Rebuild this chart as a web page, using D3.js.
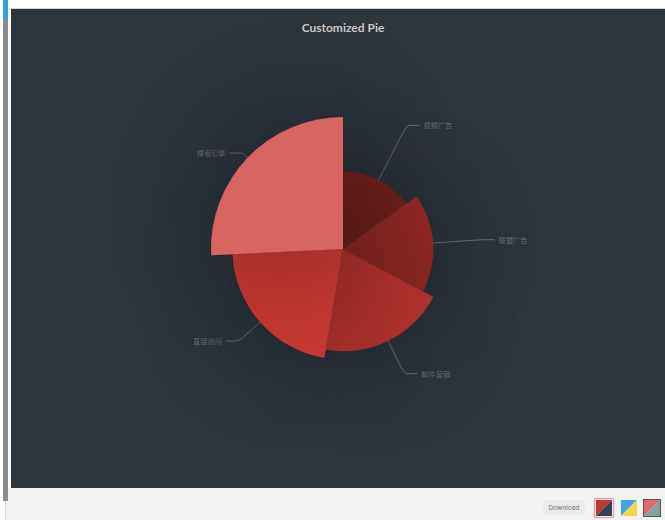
<!DOCTYPE html>
<html>
<head>
<meta charset="utf-8">
<script src="https://cdn.jsdelivr.net/npm/d3@7"></script>
<style>
  html, body { margin: 0; padding: 0; background: #ffffff; }
  svg { display: block; }
</style>
</head>
<body>
<svg id="chart" width="665" height="520"></svg>
<script>
// ---- data ----
const categories = ["直接访问", "邮件营销", "联盟广告", "视频广告", "搜索引擎"];
const values = [335, 310, 274, 235, 400];
const titleText = "Customized Pie";
const baseColor = "#c23531";
const lightnessDomain = [80, 600];
const themeIcons = [["#c23531", "#2f4554"], ["#3aa7e8", "#f7d548"], ["#e06b6b", "#7fa3a3"]];

// ---- layout ----
const svg = d3.select("#chart");
const W = 665, H = 520;
const chart = { x: 11, y: 9, w: 654, h: 479 };
const cx = 343, cy = 249, maxR = 132, labelR = 139;

// page chrome
svg.append("rect").attr("x", 0).attr("y", 0).attr("width", W).attr("height", H).attr("fill", "#ffffff");
svg.append("rect").attr("x", 5).attr("y", 488).attr("width", W - 5).attr("height", 32).attr("fill", "#f2f2f2");
svg.append("line").attr("x1", 5.5).attr("x2", 5.5).attr("y1", 488).attr("y2", 520).attr("stroke", "#dddddd");
svg.append("rect").attr("x", 3).attr("y", 0).attr("width", 5).attr("height", 501).attr("fill", "#8c8c8c");
svg.append("rect").attr("x", 3).attr("y", 0).attr("width", 5).attr("height", 20).attr("fill", "#3d9de0");
svg.append("line").attr("x1", 11).attr("x2", W).attr("y1", 8.5).attr("y2", 8.5).attr("stroke", "#d8d8d8");

// chart background
const defs = svg.append("defs");
defs.append("clipPath").attr("id", "clip").append("rect")
  .attr("x", chart.x).attr("y", chart.y).attr("width", chart.w).attr("height", chart.h);
const f = defs.append("filter").attr("id", "shadow")
  .attr("filterUnits", "userSpaceOnUse").attr("x", -800).attr("y", -800).attr("width", 1600).attr("height", 1600);
f.append("feGaussianBlur").attr("in", "SourceAlpha").attr("stdDeviation", 65).attr("result", "b");
f.append("feFlood").attr("flood-color", "#000").attr("flood-opacity", 0.5).attr("result", "c");
f.append("feComposite").attr("in", "c").attr("in2", "b").attr("operator", "in").attr("result", "s");
const m = f.append("feMerge");
m.append("feMergeNode").attr("in", "s");
m.append("feMergeNode").attr("in", "SourceGraphic");

const g = svg.append("g").attr("clip-path", "url(#clip)");
g.append("rect").attr("x", chart.x).attr("y", chart.y).attr("width", chart.w).attr("height", chart.h).attr("fill", "#2c343c");

// title
g.append("text").attr("x", cx).attr("y", 31.5).attr("text-anchor", "middle")
  .attr("font-family", "Lato, 'Open Sans', sans-serif").attr("font-weight", "bold").attr("font-size", 12)
  .attr("fill", "#cccccc").text(titleText);

// data sorted ascending (as in the original)
const data = categories.map((c, i) => ({ name: c, value: values[i] })).sort((a, b) => a.value - b.value);

const rScale = d3.scaleLinear().domain([0, d3.max(values)]).range([0, maxR]);
const lScale = d3.scaleLinear().domain(lightnessDomain).range([0, 1]);
const colorOf = v => { const c = d3.hsl(baseColor); c.l = lScale(v); return c.formatHex(); };

const pie = d3.pie().sort(null).value(d => d.value).startAngle(0).endAngle(2 * Math.PI);
const arcs = pie(data);
const arcGen = d3.arc().innerRadius(0).outerRadius(d => rScale(d.data.value));

const pg = g.append("g").attr("transform", `translate(${cx},${cy})`);

// labels + lines
const labelG = pg.append("g");
arcs.forEach(a => {
  const mid = (a.startAngle + a.endAngle) / 2;
  const dx = Math.sin(mid), dy = -Math.cos(mid);
  const r1 = rScale(a.data.value);
  const p1 = [dx * r1, dy * r1];
  const p2 = [dx * labelR, dy * labelR];
  const side = dx < 0 ? -1 : 1;
  const p3 = [p2[0] + side * 13, p2[1]];
  const path = d3.path();
  path.moveTo(p1[0], p1[1]);
  const k = 0.2;
  const q1 = [p2[0] - (p2[0] - p1[0]) * k, p2[1] - (p2[1] - p1[1]) * k];
  const q2 = [p2[0] + (p3[0] - p2[0]) * k * 1.2, p2[1]];
  path.lineTo(q1[0], q1[1]);
  path.quadraticCurveTo(p2[0], p2[1], q2[0], q2[1]);
  path.lineTo(p3[0], p3[1]);
  labelG.append("path").attr("d", path.toString()).attr("fill", "none")
    .attr("stroke", "rgba(255,255,255,0.3)").attr("stroke-width", 1);
  labelG.append("text").attr("x", p3[0] + side * 4).attr("y", p3[1])
    .attr("text-anchor", side < 0 ? "end" : "start").attr("dominant-baseline", "central")
    .attr("font-family", "'Noto Sans CJK SC', sans-serif").attr("font-size", 7.2)
    .attr("fill", "rgba(255,255,255,0.3)").text(a.data.name);
});

// sectors, each with its own shadow drawn in sequence
arcs.forEach(a => {
  pg.append("path").attr("d", arcGen(a)).attr("fill", colorOf(a.data.value)).attr("filter", "url(#shadow)");
});

// bottom toolbar
svg.append("rect").attr("x", 543).attr("y", 500).attr("width", 42).attr("height", 15).attr("fill", "#ebebeb");
svg.append("text").attr("x", 564).attr("y", 508).attr("text-anchor", "middle").attr("dominant-baseline", "central")
  .attr("font-family", "Roboto, 'Liberation Sans', sans-serif").attr("font-size", 7).attr("fill", "#777").text("Download");
const iconX = [596, 621, 644];
themeIcons.forEach((cols, i) => {
  const x = iconX[i], y = 500, s = 16;
  const ig = svg.append("g");
  ig.append("path").attr("d", `M${x},${y}H${x + s}L${x},${y + s}Z`).attr("fill", cols[0]);
  ig.append("path").attr("d", `M${x + s},${y}V${y + s}H${x}Z`).attr("fill", cols[1]);
  if (i === 0) ig.append("rect").attr("x", x - 1.5).attr("y", y - 1.5).attr("width", s + 3).attr("height", s + 3)
    .attr("fill", "none").attr("stroke", "#f2a0a8").attr("stroke-width", 1.5).attr("rx", 1.5);
  if (i === 2) ig.append("rect").attr("x", x - 0.5).attr("y", y - 0.5).attr("width", s + 1).attr("height", s + 1)
    .attr("fill", "none").attr("stroke", "#555").attr("stroke-width", 1);
});
</script>
</body>
</html>
